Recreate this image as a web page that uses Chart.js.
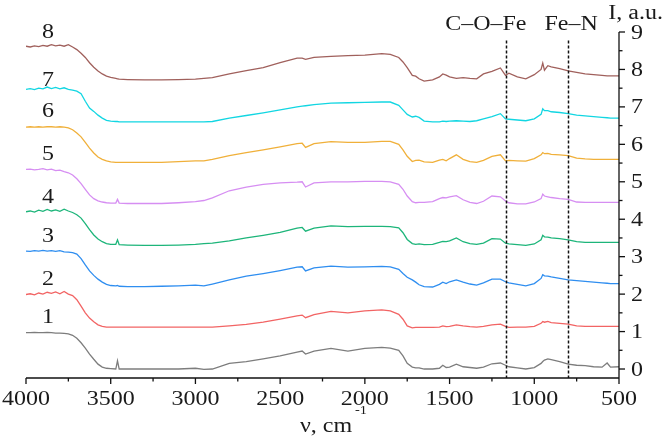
<!DOCTYPE html>
<html>
<head>
<meta charset="utf-8">
<script src="https://cdn.jsdelivr.net/npm/chart.js@4"></script>
<style>
  html, body { margin: 0; padding: 0; background: #fff; }
  canvas { display: block; }
</style>
</head>
<body>
<canvas id="spectra" width="664" height="436"></canvas>
<script>
// wavenumbers, cm-1 (shared by all spectra)
const wavenumbers = [
    4000, 3975, 3950, 3925, 3900, 3875, 3850, 3825, 3800, 3775, 3750, 3725, 3700, 3675, 3650, 3625, 3600, 3575, 3550, 3525, 3500,
    3470, 3460, 3450, 3400,
    3300, 3200, 3100, 3000, 2950, 2900, 2800, 2700, 2600, 2500,
    2400, 2370, 2350, 2300, 2200, 2100, 2000, 1900, 1850, 1800,
    1775, 1750, 1720, 1700, 1680, 1650, 1600, 1560, 1540, 1520,
    1500, 1460, 1420, 1380, 1340, 1300, 1250, 1200, 1170, 1150,
    1100, 1050, 1000, 960, 950, 940, 920, 900, 850, 800,
    750, 700, 650, 600, 570, 550, 500
];

const spectrum1 = [
    0.97, 0.97, 0.98, 0.97, 0.97, 0.98, 0.97, 0.96, 0.96, 0.95, 0.94, 0.90, 0.82, 0.70, 0.56, 0.40, 0.26, 0.13, 0.05, 0.02, 0.01,
    0.00, 0.22, 0.00, 0.00,
    0.00, 0.00, 0.00, 0.02, -0.01, 0.00, 0.15, 0.20, 0.27, 0.35,
    0.45, 0.48, 0.40, 0.48, 0.55, 0.48, 0.55, 0.58, 0.56, 0.50,
    0.35, 0.15, 0.05, 0.03, 0.03, 0.00, 0.00, 0.02, 0.10, 0.04,
    0.05, 0.13, 0.06, 0.04, 0.02, 0.05, 0.14, 0.16, 0.10, 0.06,
    0.03, 0.00, 0.04, 0.15, 0.20, 0.24, 0.27, 0.25, 0.20, 0.13,
    0.10, 0.09, 0.06, 0.05, 0.16, 0.05, 0.06
];
const spectrum2 = [
    1.99, 2.01, 1.98, 2.03, 2.00, 2.05, 2.02, 2.06, 2.01, 2.07, 2.00, 1.96, 1.85, 1.68, 1.50, 1.36, 1.26, 1.18, 1.14, 1.12, 1.12,
    1.12, 1.12, 1.12, 1.12,
    1.12, 1.12, 1.12, 1.12, 1.12, 1.12, 1.15, 1.19, 1.25, 1.33,
    1.42, 1.44, 1.37, 1.45, 1.54, 1.50, 1.55, 1.58, 1.55, 1.46,
    1.33, 1.15, 1.10, 1.11, 1.11, 1.11, 1.11, 1.12, 1.15, 1.13,
    1.14, 1.18, 1.15, 1.13, 1.12, 1.14, 1.18, 1.20, 1.14, 1.11,
    1.12, 1.12, 1.14, 1.22, 1.27, 1.25, 1.27, 1.24, 1.22, 1.20,
    1.15, 1.14, 1.14, 1.14, 1.14, 1.14, 1.14
];
const spectrum3 = [
    3.15, 3.14, 3.16, 3.15, 3.17, 3.15, 3.16, 3.14, 3.16, 3.13, 3.12, 3.11, 3.07, 2.95, 2.78, 2.62, 2.50, 2.40, 2.32, 2.26, 2.23,
    2.22, 2.23, 2.21, 2.20,
    2.20, 2.21, 2.22, 2.24, 2.22, 2.27, 2.38, 2.48, 2.55, 2.63,
    2.72, 2.73, 2.62, 2.70, 2.75, 2.72, 2.73, 2.74, 2.73, 2.66,
    2.55, 2.45, 2.38, 2.32, 2.25, 2.20, 2.19, 2.26, 2.32, 2.28,
    2.33, 2.38, 2.32, 2.27, 2.24, 2.30, 2.40, 2.40, 2.33, 2.30,
    2.26, 2.22, 2.28, 2.42, 2.52, 2.49, 2.48, 2.46, 2.42, 2.38,
    2.36, 2.34, 2.32, 2.30, 2.29, 2.28, 2.28
];
const spectrum4 = [
    4.20, 4.22, 4.19, 4.24, 4.21, 4.26, 4.22, 4.25, 4.21, 4.27, 4.22, 4.18, 4.12, 4.03, 3.88, 3.72, 3.58, 3.47, 3.40, 3.35, 3.33,
    3.33, 3.45, 3.32, 3.31,
    3.30, 3.30, 3.31, 3.33, 3.35, 3.36, 3.42, 3.50, 3.57, 3.65,
    3.76, 3.78, 3.68, 3.76, 3.82, 3.80, 3.81, 3.81, 3.80, 3.77,
    3.64, 3.46, 3.35, 3.33, 3.34, 3.32, 3.33, 3.38, 3.41, 3.40,
    3.42, 3.50, 3.40, 3.35, 3.33, 3.36, 3.48, 3.47, 3.36, 3.34,
    3.32, 3.30, 3.34, 3.45, 3.57, 3.53, 3.52, 3.50, 3.48, 3.45,
    3.40, 3.38, 3.38, 3.38, 3.38, 3.38, 3.38
];
const spectrum5 = [
    5.33, 5.34, 5.32, 5.33, 5.35, 5.32, 5.34, 5.30, 5.31, 5.27, 5.24, 5.18, 5.08, 4.95, 4.80, 4.65, 4.55, 4.49, 4.46, 4.44, 4.43,
    4.43, 4.53, 4.43, 4.42,
    4.42, 4.42, 4.44, 4.47, 4.50, 4.57, 4.76, 4.86, 4.93, 4.97,
    4.99, 5.00, 4.86, 4.97, 5.00, 5.00, 5.01, 5.01, 5.00, 4.93,
    4.80, 4.62, 4.47, 4.44, 4.45, 4.45, 4.47, 4.55, 4.58, 4.57,
    4.60, 4.63, 4.52, 4.45, 4.42, 4.48, 4.62, 4.60, 4.49, 4.44,
    4.41, 4.41, 4.46, 4.55, 4.67, 4.62, 4.60, 4.58, 4.55, 4.53,
    4.46, 4.45, 4.45, 4.45, 4.45, 4.45, 4.45
];
const spectrum6 = [
    6.46, 6.47, 6.46, 6.47, 6.46, 6.47, 6.47, 6.46, 6.47, 6.46, 6.44, 6.39, 6.30, 6.20, 6.05, 5.90, 5.77, 5.66, 5.60, 5.56, 5.53,
    5.52, 5.52, 5.52, 5.52,
    5.52, 5.52, 5.54, 5.56, 5.56, 5.60, 5.70, 5.78, 5.85, 5.93,
    6.02, 6.03, 5.92, 6.02, 6.07, 6.05, 6.05, 6.08, 6.08, 6.00,
    5.85, 5.68, 5.54, 5.57, 5.58, 5.53, 5.52, 5.58, 5.60, 5.56,
    5.62, 5.72, 5.60, 5.54, 5.52, 5.57, 5.68, 5.72, 5.56, 5.57,
    5.56, 5.55, 5.62, 5.72, 5.78, 5.75, 5.76, 5.73, 5.72, 5.70,
    5.63, 5.61, 5.60, 5.60, 5.60, 5.60, 5.60
];
const spectrum7 = [
    7.47, 7.49, 7.46, 7.50, 7.48, 7.53, 7.49, 7.52, 7.48, 7.51, 7.47, 7.45, 7.42, 7.35, 7.15, 6.97, 6.88, 6.78, 6.70, 6.64, 6.62,
    6.61, 6.61, 6.60, 6.60,
    6.60, 6.60, 6.60, 6.60, 6.60, 6.61, 6.70, 6.77, 6.84, 6.92,
    7.00, 7.02, 7.03, 7.06, 7.10, 7.11, 7.12, 7.13, 7.13, 7.04,
    6.92, 6.80, 6.73, 6.75, 6.72, 6.62, 6.60, 6.60, 6.62, 6.61,
    6.62, 6.63, 6.62, 6.61, 6.63, 6.68, 6.74, 6.82, 6.68, 6.67,
    6.65, 6.63, 6.68, 6.80, 6.95, 6.90, 6.90, 6.87, 6.85, 6.82,
    6.78, 6.76, 6.74, 6.72, 6.71, 6.70, 6.70
];
const spectrum8 = [
    8.62, 8.60, 8.63, 8.61, 8.64, 8.62, 8.66, 8.63, 8.65, 8.62, 8.66, 8.60, 8.53, 8.43, 8.32, 8.18, 8.06, 7.96, 7.88, 7.82, 7.79,
    7.76, 7.75, 7.74, 7.73,
    7.72, 7.72, 7.73, 7.74, 7.76, 7.78, 7.88, 7.97, 8.05, 8.18,
    8.30, 8.30, 8.27, 8.32, 8.35, 8.37, 8.38, 8.42, 8.40, 8.32,
    8.20, 8.05, 7.84, 7.82, 7.75, 7.69, 7.72, 7.80, 7.88, 7.85,
    7.80, 7.76, 7.78, 7.76, 7.75, 7.88, 7.95, 8.04, 7.84, 7.90,
    7.80, 7.75, 7.86, 8.00, 8.17, 7.98, 8.10, 8.07, 8.02, 7.96,
    7.92, 7.88, 7.86, 7.84, 7.83, 7.83, 7.83
];

const spectra = [spectrum1, spectrum2, spectrum3, spectrum4, spectrum5, spectrum6, spectrum7, spectrum8];
const sampleNames = ["1", "2", "3", "4", "5", "6", "7", "8"];
const lineColors = ["#7d7d7d", "#f26464", "#2f8ef0", "#1db57a", "#d68ef2", "#f0b03a", "#12d6e2", "#a0605c"];

const xTicks = [4000, 3500, 3000, 2500, 2000, 1500, 1000, 500];
const yTicks = [0, 1, 2, 3, 4, 5, 6, 7, 8, 9];

// marked bands: wavenumber and label
const bandPositions = [1168, 800];
const bandNames = ["C–O–Fe", "Fe–N"];

// where the sample numbers sit (wavenumber, intensity of the text baseline)
const nameX = 3870;
const nameY = [1.23, 2.24, 3.39, 4.43, 5.57, 6.72, 7.57, 8.85];

const FONT = '"Liberation Serif", "Times New Roman", serif';
const INK = "#1a1a1a";

function say(ctx, s, px, py, align, size) {
    ctx.save();
    ctx.font = size + "px " + FONT;
    ctx.fillStyle = INK;
    ctx.translate(px, py);
    ctx.scale(1.2, 1);
    ctx.textAlign = align;
    ctx.textBaseline = "alphabetic";
    ctx.fillText(s, 0, 0);
    ctx.restore();
}

function seg(ctx, x1, y1, x2, y2) {
    ctx.beginPath();
    ctx.moveTo(x1, y1);
    ctx.lineTo(x2, y2);
    ctx.stroke();
}

const decor = {
    id: "decor",
    afterDatasetsDraw(chart) {
        const { ctx, chartArea: a, scales: { x, y } } = chart;
        ctx.save();

        // dashed band markers
        ctx.strokeStyle = "#111";
        ctx.lineWidth = 1.5;
        ctx.setLineDash([3, 2]);
        bandPositions.forEach(b => {
            const px = Math.round(x.getPixelForValue(b)) + 0.5;
            seg(ctx, px, y.getPixelForValue(8.77), px, a.bottom);
        });
        ctx.setLineDash([]);

        // axes
        ctx.strokeStyle = "#111";
        ctx.lineWidth = 1.3;
        seg(ctx, a.left, a.bottom, a.right, a.bottom);
        seg(ctx, a.right, a.bottom, a.right, a.top);

        // x ticks (major + minor)
        xTicks.forEach((v, i) => {
            const px = x.getPixelForValue(v);
            seg(ctx, px, a.bottom, px, a.bottom + 6);
            say(ctx, String(v), px, 405, "center", 20);
            if (i < xTicks.length - 1) {
                const m = x.getPixelForValue((v + xTicks[i + 1]) / 2);
                seg(ctx, m, a.bottom, m, a.bottom + 3.5);
            }
        });

        // y ticks (major + minor)
        yTicks.forEach((v, i) => {
            const py = y.getPixelForValue(v);
            seg(ctx, a.right, py, a.right + 6, py);
            say(ctx, String(v), a.right + 12, py + 6.5, "left", 20);
            if (i < yTicks.length - 1) {
                const m = y.getPixelForValue(v + 0.5);
                seg(ctx, a.right, m, a.right + 3.5, m);
            }
        });

        // axis titles
        say(ctx, "I, a.u.", 663, 19, "right", 20);
        say(ctx, "ν, cm", 300, 432, "left", 20);
        say(ctx, "-1", 355, 414, "left", 12);

        // band labels
        say(ctx, bandNames[0], x.getPixelForValue(bandPositions[0]) - 20, 30, "center", 20);
        say(ctx, bandNames[1], x.getPixelForValue(bandPositions[1]) + 3, 30, "center", 20);

        // sample numbers
        sampleNames.forEach((n, i) => {
            say(ctx, n, x.getPixelForValue(nameX), y.getPixelForValue(nameY[i]), "center", 20);
        });

        ctx.restore();
    }
};

new Chart(document.getElementById("spectra").getContext("2d"), {
    type: "line",
    data: {
        datasets: spectra.map((s, i) => ({
            label: sampleNames[i],
            data: wavenumbers.map((w, k) => ({ x: w, y: s[k] })),
            borderColor: lineColors[i],
            borderWidth: 1.3,
            pointRadius: 0,
            tension: 0,
            fill: false
        }))
    },
    options: {
        responsive: false,
        animation: false,
        layout: { padding: { left: 26, right: 45, top: 32, bottom: 58 } },
        plugins: { legend: { display: false }, tooltip: { enabled: false } },
        scales: {
            x: { type: "linear", reverse: true, min: 500, max: 4000, display: false },
            y: { type: "linear", min: -0.24, max: 9, display: false }
        }
    },
    plugins: [decor]
});
</script>
</body>
</html>
